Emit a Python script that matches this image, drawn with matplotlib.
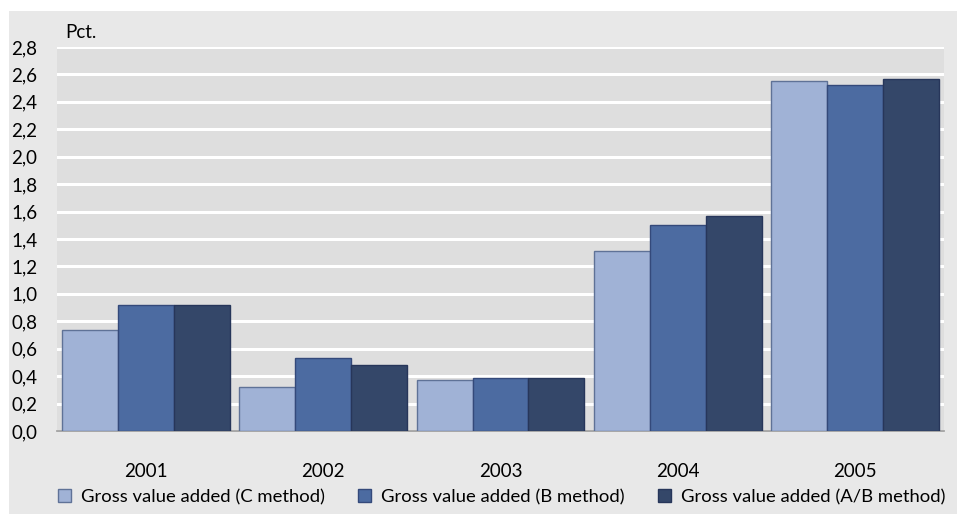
import numpy as np
import matplotlib.pyplot as plt
from matplotlib.patches import Rectangle, Patch

plt.rcParams['font.family'] = ['Lato', 'DejaVu Sans']

years = ['2001', '2002', '2003', '2004', '2005']
gva_c = [0.74, 0.32, 0.37, 1.31, 2.55]
gva_b = [0.92, 0.53, 0.39, 1.50, 2.52]
gva_ab = [0.92, 0.48, 0.39, 1.57, 2.57]
series_names = ['Gross value added (C method)',
                'Gross value added (B method)',
                'Gross value added (A/B method)']
y_ticks = np.arange(0, 2.81, 0.2)

fills = ['#A0B2D6', '#4C6BA1', '#344769']
edges = ['#5F7297', '#34497A', '#27365A']

W, H = 957, 514
fig = plt.figure(figsize=(W / 100, H / 100), dpi=100, facecolor='white')

# light grey panel behind the whole chart
fig.patches.append(Rectangle((9 / W, 0), 1 - 9 / W, (H - 11) / H,
                             transform=fig.transFigure, facecolor='#E8E8E8',
                             edgecolor='none', zorder=-10))

ax = fig.add_axes([57 / W, (H - 431) / H, (944 - 57) / W, (431 - 47) / H])
ax.set_facecolor('#DEDEDE')

x = np.arange(len(years))
w = 0.315
for k, (vals, fc, ec) in enumerate(zip([gva_c, gva_b, gva_ab], fills, edges)):
    ax.bar(x + (k - 1) * w, vals, width=w, color=fc, edgecolor=ec,
           linewidth=1.0, zorder=3)

ax.set_xlim(-0.5, len(years) - 0.5)
ax.set_ylim(0, 2.8)
ax.set_yticks(y_ticks)
ax.set_yticklabels([f'{v:.1f}'.replace('.', ',') for v in y_ticks], fontsize=13.5)
ax.set_xticks(x)
ax.set_xticklabels(years, fontsize=13.5)
ax.tick_params(axis='both', length=0, colors='black')
ax.tick_params(axis='y', pad=14)
ax.tick_params(axis='x', pad=23)
ax.yaxis.grid(True, color='white', linewidth=2.2, zorder=0)
ax.set_axisbelow(True)
for side in ['top', 'right', 'left']:
    ax.spines[side].set_visible(False)
ax.spines['bottom'].set_color('#9A9A9A')
ax.spines['bottom'].set_linewidth(1.2)

fig.text(65 / W, 1 - 32 / H, 'Pct.', fontsize=13.5, va='center', ha='left')

handles = [Patch(facecolor=fc, edgecolor=ec, linewidth=1.0)
           for fc, ec in zip(fills, edges)]
fig.legend(handles, series_names, loc='center', ncol=3,
           bbox_to_anchor=(502 / W, 1 - 497 / H), frameon=False,
           fontsize=13.3, handlelength=0.7, handleheight=0.7,
           handletextpad=0.55, columnspacing=1.8, borderaxespad=0)

fig.savefig('out.png', dpi=100, facecolor='white')
